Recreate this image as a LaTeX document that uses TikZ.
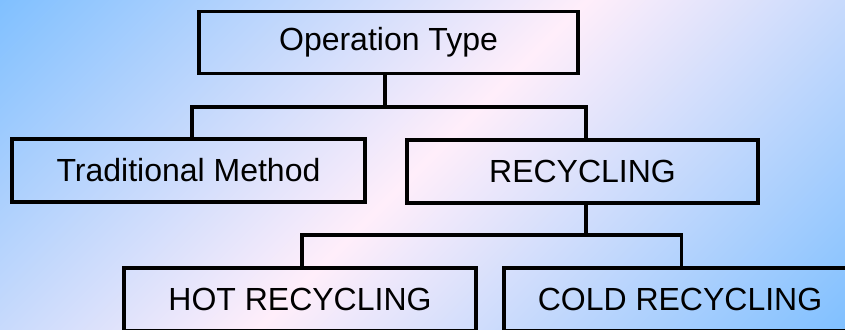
\documentclass[tikz,border=0pt]{standalone}
\usepackage{fontspec}
\setmainfont{Liberation Sans}
\definecolor{skyblue}{RGB}{128,192,255}
\definecolor{blush}{RGB}{255,238,250}
\begin{document}
\begin{tikzpicture}[x=1pt,y=-1pt,
  box/.style={draw,line width=3.5pt,minimum height=63pt,inner sep=0pt,
    font=\fontsize{32}{38}\selectfont},
  wire/.style={line width=3.5pt}]
\useasboundingbox (0,0) rectangle (845,329);
\clip (0,0) rectangle (845,329);
% diagonal wash
\begin{scope}[transform canvas={rotate around={-45:(422.5,164.5)}}]
  \shade[left color=skyblue,right color=skyblue,middle color=blush]
    (7.5,-260) rectangle (837.5,589);
\end{scope}
\node[box,minimum width=379pt,minimum height=62pt] (optype) at (388.5,42.5) {Operation Type};
\node[box,minimum width=353pt] (trad) at (188.5,170.5) {Traditional Method};
\node[box,minimum width=351pt] (recyc) at (582.5,171.5) {RECYCLING};
\node[box,minimum width=352pt] (hot) at (300,299.5) {HOT RECYCLING};
\node[box,minimum width=352pt] (cold) at (680,299.5) {COLD RECYCLING};
% tree links
\coordinate (split1) at (385,107);
\coordinate (split2) at (586,235);
\draw[wire] (optype.south -| split1) -- (split1);
\draw[wire] ([xshift=3.5pt]trad.north) |- (split1) -| ([xshift=3.5pt]recyc.north);
\draw[wire] (recyc.south -| split2) -- (split2);
\draw[wire] ([xshift=2pt]hot.north) |- (split2) -| ([xshift=1.5pt]cold.north);
\end{tikzpicture}
\end{document}
